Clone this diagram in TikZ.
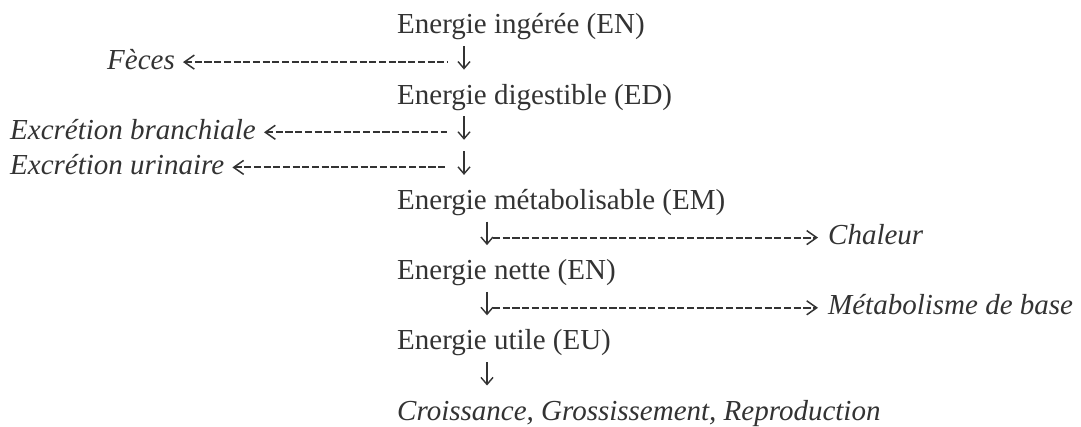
\documentclass[tikz,border=0pt]{standalone}
\usepackage{fontspec}
\setmainfont{Liberation Serif}
\usetikzlibrary{arrows.meta}
\definecolor{ink}{HTML}{333333}
\begin{document}
\begin{tikzpicture}[x=1pt,y=1pt,
  lbl/.style={anchor=base west, inner sep=0pt, text=ink, font=\fontsize{29}{34}\selectfont},
  ilbl/.style={lbl, font=\fontsize{29}{34}\selectfont\itshape},
  darrow/.style={draw=ink, line width=1.4pt, -{Straight Barb[length=7pt,width=12pt,line width=1.4pt]}},
  conn/.style={draw=ink, line width=1.9pt, dash pattern=on 7.1pt off 2.6pt},
  ltip/.style={conn, {Straight Barb[length=10pt,width=14pt,line width=1.5pt]}-},
  rtip/.style={conn, -{Straight Barb[length=10pt,width=14pt,line width=1.5pt]}}
]
\fill[white] (0,0) rectangle (1081,-427);
\useasboundingbox (0,0) rectangle (1081,-427);

% main column
\node[lbl] (ei) at (397,-34) {Energie ingérée (EN)};
\node[lbl] (ed) at (397,-104.2) {Energie digestible (ED)};
\node[lbl] (em) at (397,-209.5) {Energie métabolisable (EM)};
\node[lbl] (en) at (397,-279.7) {Energie nette (EN)};
\node[lbl] (eu) at (397,-349.9) {Energie utile (EU)};
\node[ilbl] (cgr) at (397,-420.1) {Croissance, Grossissement, Reproduction};

% down arrows (foot points on each line's baseline)
\coordinate (d2) at (464,-69.1);
\coordinate (d4) at (464,-139.3);
\coordinate (d5) at (464,-174.4);
\coordinate (d7) at (487,-244.6);
\coordinate (d9) at (487,-314.8);
\coordinate (d11) at (487,-385);
\foreach \d in {d2,d4,d5,d7,d9,d11}
  \draw[darrow] ([yshift=23pt]\d) -- ([yshift=-0.5pt]\d);

% side labels
\node[ilbl] (fec) at (107,-69.1) {Fèces};
\node[ilbl] (exb) at (10,-139.3) {Excrétion branchiale};
\node[ilbl] (exu) at (10,-174.4) {Excrétion urinaire};
\node[ilbl] (cha) at (828,-244.6) {Chaleur};
\node[ilbl] (mdb) at (828,-314.8) {Métabolisme de base};

% connectors
\draw[ltip] ([xshift=8pt,yshift=7pt]fec.base east) -- ([xshift=-17pt,yshift=7pt]d2);
\draw[ltip] ([xshift=8pt,yshift=7pt]exb.base east) -- ([xshift=-17pt,yshift=7pt]d4);
\draw[ltip] ([xshift=8pt,yshift=7pt]exu.base east) -- ([xshift=-17pt,yshift=7pt]d5);
\draw[rtip] ([xshift=6pt,yshift=7pt]d7) -- ([xshift=-10pt,yshift=7pt]cha.base west);
\draw[rtip] ([xshift=6pt,yshift=7pt]d9) -- ([xshift=-10pt,yshift=7pt]mdb.base west);
\end{tikzpicture}
\end{document}
